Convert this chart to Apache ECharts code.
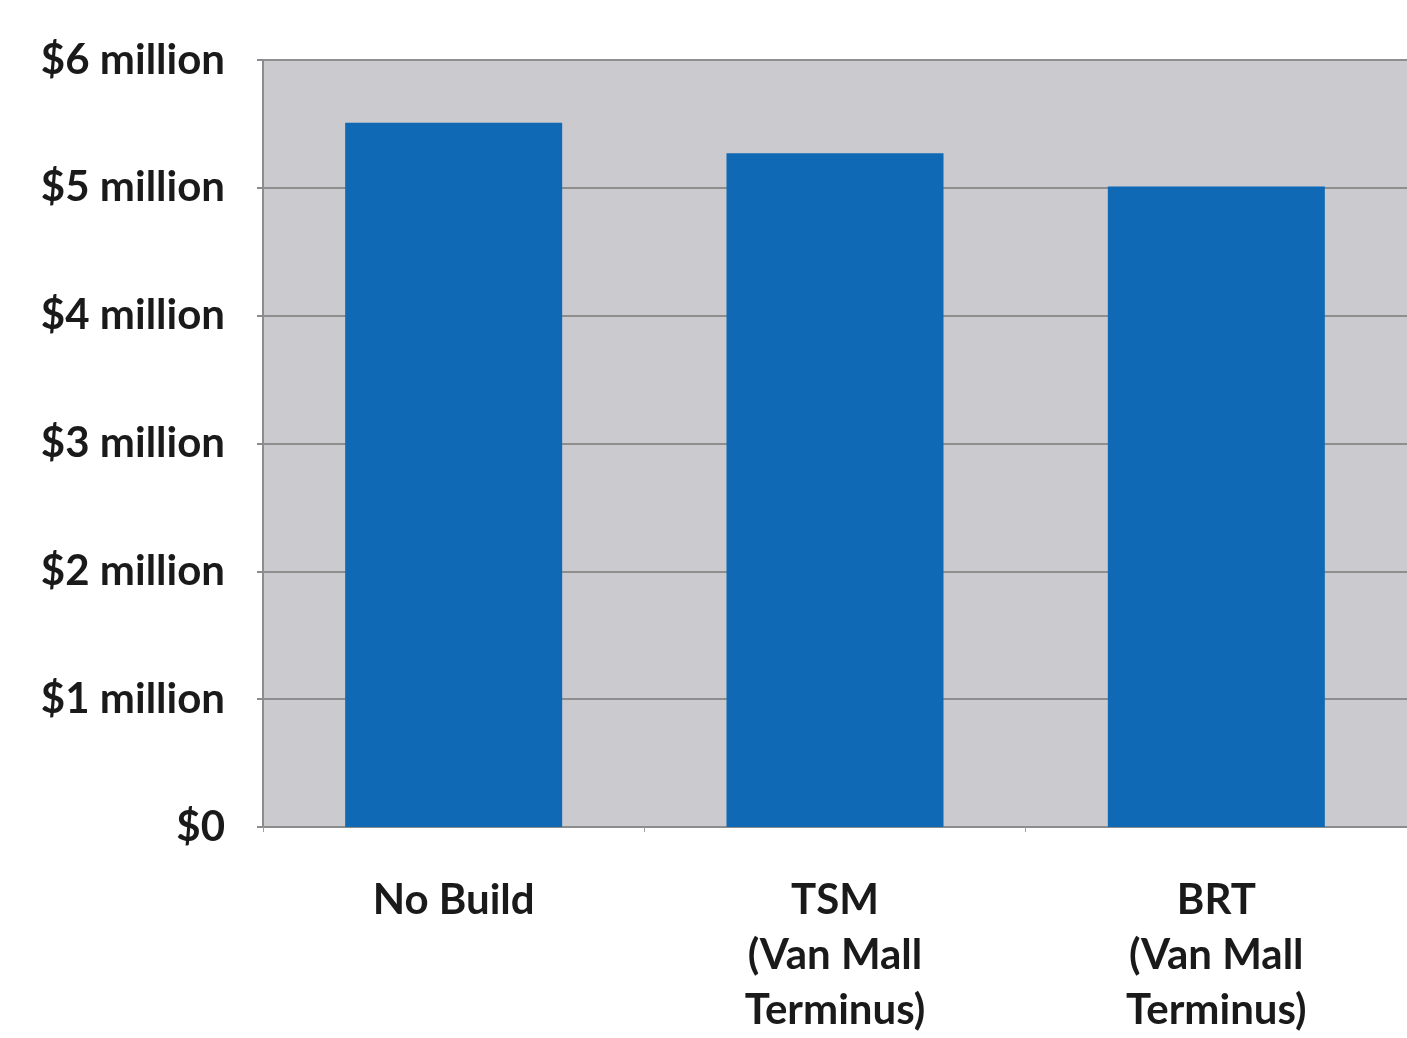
<!DOCTYPE html>
<html>
<head>
<meta charset="utf-8">
<script src="https://cdn.jsdelivr.net/npm/echarts@6/dist/echarts.min.js"></script>
<style>
  html, body { margin: 0; padding: 0; background: #ffffff; }
  #main { width: 1407px; height: 1038px; }
</style>
</head>
<body>
<div id="main"></div>
<script>
const categories = ['No Build', 'TSM\n(Van Mall\nTerminus)', 'BRT\n(Van Mall\nTerminus)'];
const costs = [5.51, 5.27, 5.01];
const tickLabels = ['$0', '$1 million', '$2 million', '$3 million', '$4 million', '$5 million', '$6 million'];

const chart = echarts.init(document.getElementById('main'));

const option = {
  animation: false,
  backgroundColor: '#ffffff',
  grid: {
    left: 263,
    right: -12,
    top: 60,
    bottom: 205,
    show: true,
    backgroundColor: '#cbcace',
    borderWidth: 0
  },
  xAxis: {
    type: 'category',
    data: categories,
    axisLine: { show: true, lineStyle: { color: '#8c8c8c', width: 2 } },
    axisTick: { show: true, length: 5, lineStyle: { color: '#a0a0a0' } },
    axisLabel: {
      margin: 46,
      color: '#1a1a1a',
      fontFamily: 'Lato',
      fontWeight: 'bold',
      fontSize: 42,
      lineHeight: 55,
      verticalAlign: 'top'
    }
  },
  yAxis: {
    type: 'value',
    min: 0,
    max: 6,
    interval: 1,
    axisLine: { show: true, lineStyle: { color: '#8c8c8c', width: 2 } },
    axisTick: { show: true, length: 6, lineStyle: { color: '#8c8c8c', width: 2 } },
    splitLine: { show: true, lineStyle: { color: '#8e8e8e', width: 2 } },
    axisLabel: {
      margin: 38,
      color: '#1a1a1a',
      fontFamily: 'Lato',
      fontWeight: 'bold',
      fontSize: 42,
      formatter: function (v) { return tickLabels[Math.round(v)]; }
    }
  },
  series: [{
    type: 'bar',
    data: costs,
    barWidth: 217,
    itemStyle: { color: '#0f69b4' }
  }]
};

chart.setOption(option);
</script>
</body>
</html>
